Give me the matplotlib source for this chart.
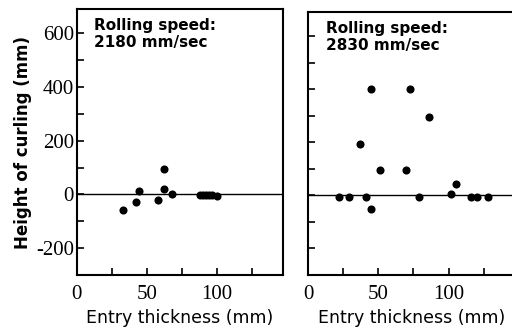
import matplotlib
matplotlib.use("Agg")
import matplotlib.pyplot as plt
from matplotlib.ticker import MultipleLocator

# Data
left_x = [33, 42, 44, 57.5, 62, 62, 68, 88, 90, 92, 94, 96, 100]
left_y = [-57, -29, 12, -22, 96, 21, 2, -3, -3, -3, -3, -3, -5]
right_x = [22, 29, 37, 41, 45, 45, 51, 69.5, 72.5, 79, 86, 102, 105.5, 116, 120, 128]
right_y = [-5, -5, 195, -5, 400, -50, 95, 95, 400, -8, 295, 5, 42, -8, -8, -6]
speeds = ["Rolling speed:\n2180 mm/sec", "Rolling speed:\n2830 mm/sec"]
yticks = [-200, 0, 200, 400, 600]
xticks = [0, 50, 100]

fig = plt.figure(figsize=(5.12, 3.27), dpi=100)
ax1 = fig.add_axes([0.150, 0.159, 0.403, 0.813])
ax2 = fig.add_axes([0.602, 0.159, 0.403, 0.804])

tickfont = dict(family="Liberation Serif", size=15)
for ax, xs, ys, lab in [(ax1, left_x, left_y, speeds[0]), (ax2, right_x, right_y, speeds[1])]:
    ax.set_xlim(0, 147)
    ax.set_ylim(-300, 690)
    ax.axhline(0, color="black", lw=1.0, zorder=1)
    ax.scatter(xs, ys, s=34, color="black", zorder=3, linewidths=0)
    for s in ax.spines.values():
        s.set_linewidth(1.5)
    ax.xaxis.set_major_locator(MultipleLocator(50))
    ax.xaxis.set_minor_locator(MultipleLocator(25))
    ax.yaxis.set_major_locator(MultipleLocator(200))
    ax.yaxis.set_minor_locator(MultipleLocator(100))
    ax.tick_params(which="both", direction="in", width=1.2, top=False, right=False)
    ax.tick_params(which="major", length=5)
    ax.tick_params(which="minor", length=5)
    ax.set_xticks(xticks)
    ax.set_xticklabels([str(t) for t in xticks], fontdict=tickfont)
    ax.tick_params(axis="x", pad=7)
    ax.set_xlabel("Entry thickness (mm)", family="DejaVu Sans", fontsize=12.5, labelpad=4)
    ax.text(0.085, 0.965, lab, transform=ax.transAxes, ha="left", va="top",
            family="DejaVu Sans", fontweight="bold", fontsize=11, linespacing=1.1)

ax1.set_yticks(yticks)
ax1.set_yticklabels([str(t) for t in yticks], fontdict=tickfont)
ax1.tick_params(axis="y", pad=2)
ax1.set_ylabel("Height of curling (mm)", family="DejaVu Sans", fontweight="bold",
               fontsize=12, labelpad=3)
ax2.set_yticks(yticks)
ax2.set_yticklabels([])

fig.savefig("out.png", dpi=100)
